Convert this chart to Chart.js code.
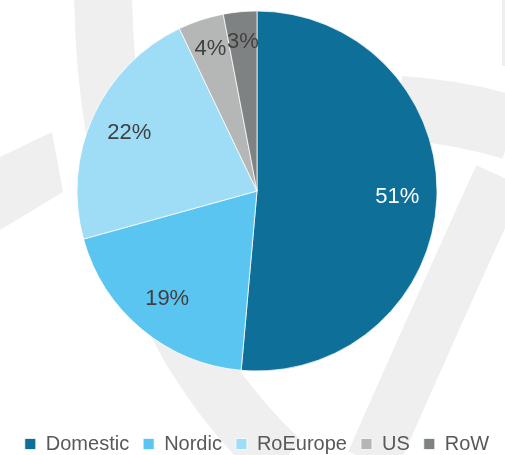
<!DOCTYPE html>
<html>
<head>
<meta charset="utf-8">
<script src="https://cdn.jsdelivr.net/npm/chart.js@4.4.0/dist/chart.umd.min.js"></script>
<style>
  html, body { margin: 0; padding: 0; background: #fff; }
  #wrap { width: 505px; height: 455px; }
</style>
</head>
<body>
<div id="wrap"><canvas id="salesPie"></canvas></div>
<script>
const regions = ['Domestic', 'Nordic', 'RoEurope', 'US', 'RoW'];
const shares = [51.4, 19.3, 22.2, 4.1, 3.0];
const sliceColors = ['#0e7098', '#5bc5f1', '#9fdcf6', '#b5b6b6', '#7f8283'];
const labelInk = ['#ffffff', '#404040', '#404040', '#404040', '#404040'];

// faint logo shapes behind the pie
const watermark = {
  id: 'watermark',
  beforeDraw(chart) {
    const { ctx } = chart;
    ctx.save();
    ctx.strokeStyle = '#efefef';
    ctx.fillStyle = '#efefef';
    ctx.lineCap = 'butt';

    ctx.lineWidth = 58;
    ctx.beginPath();
    ctx.moveTo(103, -5);
    ctx.quadraticCurveTo(108, 300, 282, 462);
    ctx.stroke();

    ctx.lineWidth = 52;
    ctx.beginPath();
    ctx.moveTo(500, 176);
    ctx.quadraticCurveTo(430, 330, 372, 462);
    ctx.stroke();

    ctx.lineWidth = 64;
    ctx.beginPath();
    ctx.moveTo(400, 108);
    ctx.quadraticCurveTo(460, 112, 512, 128);
    ctx.stroke();

    ctx.beginPath();
    ctx.moveTo(0, 157);
    ctx.lineTo(52, 132);
    ctx.lineTo(63, 192);
    ctx.lineTo(0, 230);
    ctx.closePath();
    ctx.fill();

    ctx.fillRect(502, 0, 3, 66);
    ctx.restore();
  }
};

// percentage labels inside slices
const sliceLabels = {
  id: 'sliceLabels',
  afterDatasetsDraw(chart) {
    const { ctx } = chart;
    const meta = chart.getDatasetMeta(0);
    ctx.save();
    ctx.font = '22px "Liberation Sans", Arial, sans-serif';
    ctx.textAlign = 'center';
    ctx.textBaseline = 'middle';
    meta.data.forEach((arc, i) => {
      const { x, y, startAngle, endAngle, outerRadius } =
        arc.getProps(['x', 'y', 'startAngle', 'endAngle', 'outerRadius'], true);
      const mid = (startAngle + endAngle) / 2;
      const r = outerRadius * (shares[i] < 5 ? 0.83 : 0.78);
      ctx.fillStyle = labelInk[i];
      ctx.fillText(Math.round(shares[i]) + '%', x + Math.cos(mid) * r, y + Math.sin(mid) * r);
    });
    ctx.restore();
  }
};

new Chart(document.getElementById('salesPie'), {
  type: 'pie',
  data: {
    labels: regions,
    datasets: [{
      data: shares,
      backgroundColor: sliceColors,
      borderColor: '#ffffff',
      borderWidth: 0.75,
      radius: 180
    }]
  },
  options: {
    responsive: true,
    maintainAspectRatio: false,
    animation: false,
    events: [],
    layout: { padding: { top: 0, bottom: -9, left: 9, right: 0 } },
    plugins: {
      tooltip: { enabled: false },
      legend: {
        position: 'bottom',
        // empty title only opens a gap between the pie and the legend row
        title: { display: true, text: '', font: { size: 10 }, padding: { top: 13, bottom: 13 } },
        labels: {
          boxWidth: 11,
          boxHeight: 11,
          padding: 14,
          color: '#595959',
          font: { family: '"Liberation Sans", Arial, sans-serif', size: 20 }
        }
      }
    }
  },
  plugins: [watermark, sliceLabels]
});
</script>
</body>
</html>
